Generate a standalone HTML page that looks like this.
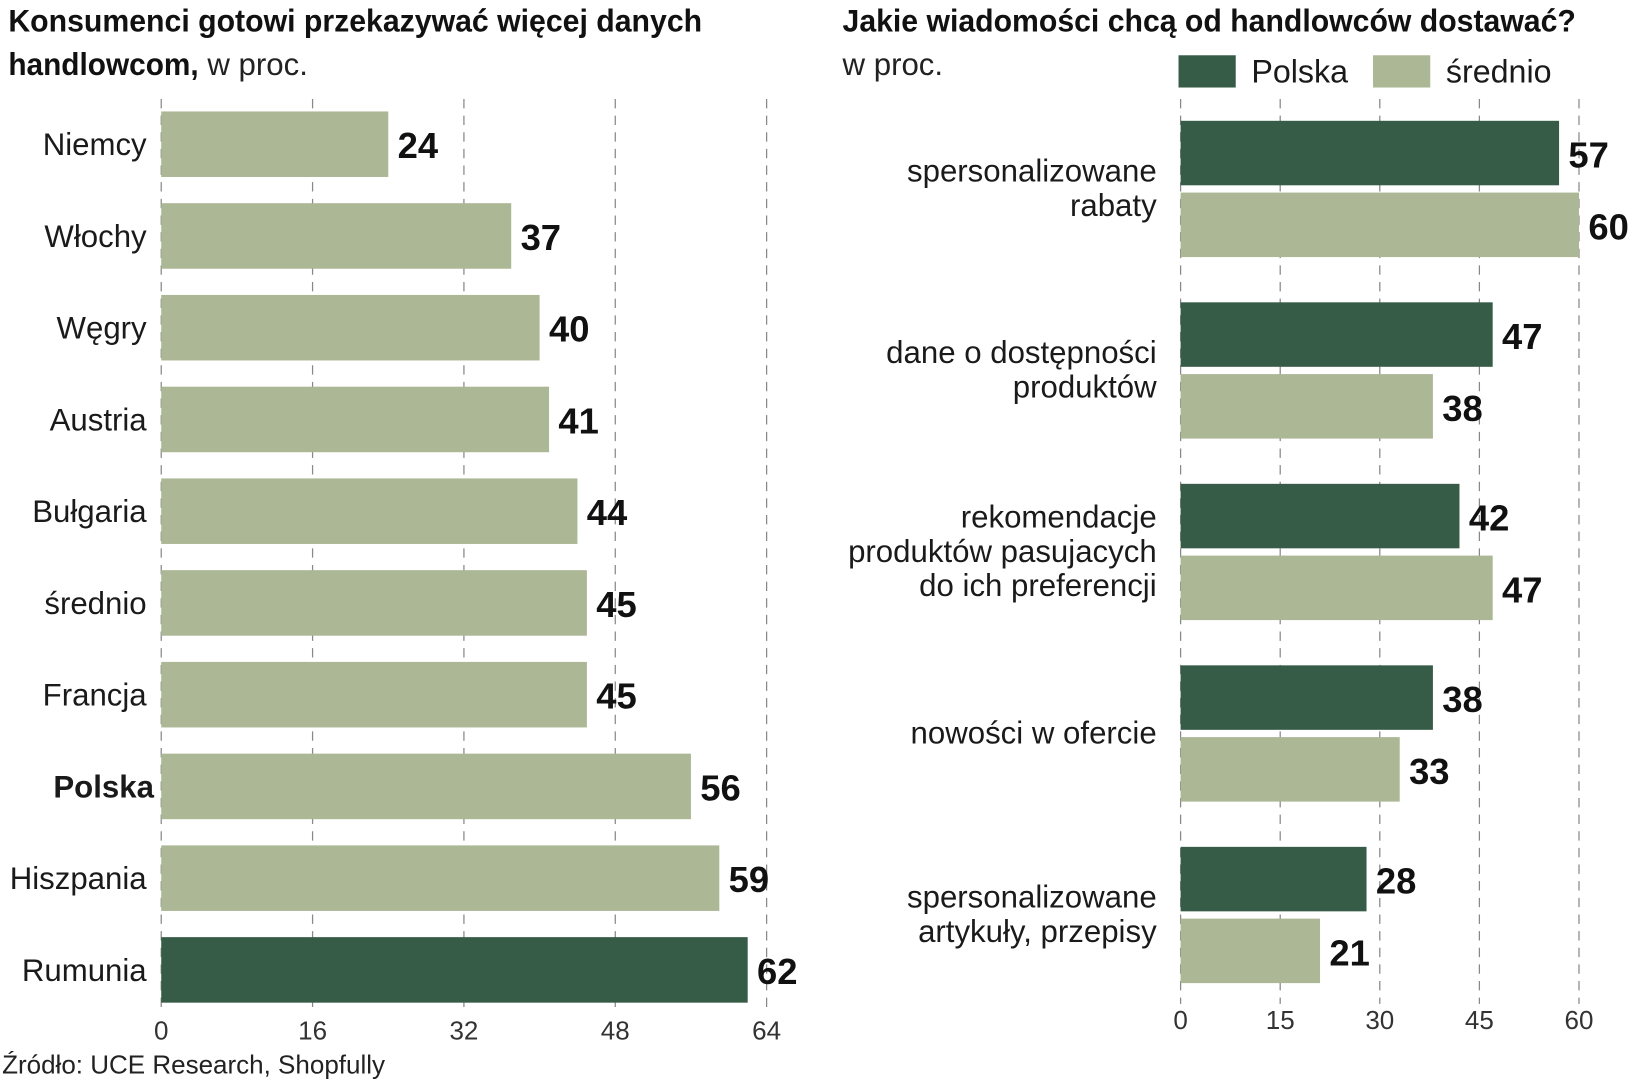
<!DOCTYPE html>
<html><head><meta charset="utf-8"><style>
html,body{margin:0;padding:0;background:#fff;}
svg{display:block;}
text{font-family:"Liberation Sans Narrow","Liberation Sans",sans-serif;}
.cat{font-size:30px;fill:#1a1a1a;}
.val{font-size:35px;font-weight:bold;fill:#111;}
.tick{font-size:25px;fill:#333;}
.ttl{font-size:30px;font-weight:bold;fill:#111;}
</style></head><body>
<svg id="chart" width="1631" height="1080" viewBox="0 0 1568 1038" xmlns="http://www.w3.org/2000/svg">
<text class="ttl" x="8" y="30" textLength="667" lengthAdjust="spacingAndGlyphs">Konsumenci gotowi przekazywać więcej danych</text>
<text x="8" y="72"><tspan class="ttl" textLength="183" lengthAdjust="spacingAndGlyphs">handlowcom,</tspan><tspan style="font-size:30px;fill:#222"> w proc.</tspan></text>
<text class="ttl" x="810" y="30" textLength="705" lengthAdjust="spacingAndGlyphs">Jakie wiadomości chcą od handlowców dostawać?</text>
<text x="810" y="72" style="font-size:30px;fill:#222">w proc.</text>
<g>
<rect x="1133" y="53" width="55" height="31" fill="#365c47"/>
<text x="1203" y="79" style="font-size:31px;fill:#1a1a1a">Polska</text>
<rect x="1320" y="53" width="55" height="31" fill="#abb795"/>
<text x="1390" y="79" style="font-size:31px;fill:#1a1a1a">średnio</text>
</g>
<g id="left"></g>
<g id="right"></g>
<text x="2" y="1032" style="font-size:25px;fill:#222">Źródło: UCE Research, Shopfully</text>
</svg>
<script>
const leftCats=["Niemcy","Włochy","Węgry","Austria","Bułgaria","średnio","Francja","Polska","Hiszpania","Rumunia"];
const leftVals=[24,37,40,41,44,45,45,56,59,62];
const leftTicks=[0,16,32,48,64];
const rightCats=[["spersonalizowane","rabaty"],["dane o dostępności","produktów"],["rekomendacje","produktów pasujacych","do ich preferencji"],["nowości w ofercie"],["spersonalizowane","artykuły, przepisy"]];
const polskaVals=[57,47,42,38,28];
const sredniaVals=[60,38,47,33,21];
const rightTicks=[0,15,30,45,60];
const NS="http://www.w3.org/2000/svg";
const DARK="#365c47",LIGHT="#abb795";
function mk(p,tag,attrs,txt){const e=document.createElementNS(NS,tag);for(const k in attrs)e.setAttribute(k,attrs[k]);if(txt!==undefined)e.textContent=txt;p.appendChild(e);return e;}
const L=document.getElementById('left');
const lx=v=>155+v*(582/64);
const ly=i=>107+i*88.2;
leftTicks.forEach(t=>{
 const g=mk(L,'line',{x1:lx(t),x2:lx(t),y1:95,y2:975,stroke:'#888','stroke-width':1.2,'stroke-dasharray':'9 7'});
 
 
 const tx=mk(L,'text',{class:'tick',x:lx(t),y:999,'text-anchor':'middle'},String(t));
 
 
});
leftCats.forEach((c,i)=>{
 const v=leftVals[i],y=ly(i);
 const r=mk(L,'rect',{x:lx(0),y:y,width:lx(v)-lx(0),height:63,fill:c==="Rumunia"?DARK:LIGHT});
 
 
 const t=mk(L,'text',{class:'val',x:lx(v)+9,y:y+45},String(v));
 
 
 const lb=mk(L,'text',{class:'cat',x:141,y:y+42,'text-anchor':'end'},c);
 if(c==="Polska"){lb.style.fontWeight='bold';lb.setAttribute('x','148');}
 
 
});
const R=document.getElementById('right');
const rx=v=>1135+v*(383/60);
const ry=i=>116+i*174.5;
rightTicks.forEach(t=>{
 const g=mk(R,'line',{x1:rx(t),x2:rx(t),y1:95,y2:965,stroke:'#888','stroke-width':1.2,'stroke-dasharray':'9 7'});
 
 
 const tx=mk(R,'text',{class:'tick',x:rx(t),y:989,'text-anchor':'middle'},String(t));
 
 
});
rightCats.forEach((lines,i)=>{
 const y=ry(i);
 [[polskaVals[i],DARK,0,'polska'],[sredniaVals[i],LIGHT,69,'srednio']].forEach(([v,col,off,nm])=>{
  const r=mk(R,'rect',{x:rx(0),y:y+off,width:rx(v)-rx(0),height:62,fill:col});
  
  
  const t=mk(R,'text',{class:'val',x:rx(v)+9,y:y+off+45},String(v));
  
  
 });
 const cy=y+65, n=lines.length;
 lines.forEach((ln,j)=>{
  const t=mk(R,'text',{class:'cat',x:1112,y:cy+(j-(n-1)/2)*33+10,'text-anchor':'end'},ln);
  
  
 });
});
</script>
</body></html>
